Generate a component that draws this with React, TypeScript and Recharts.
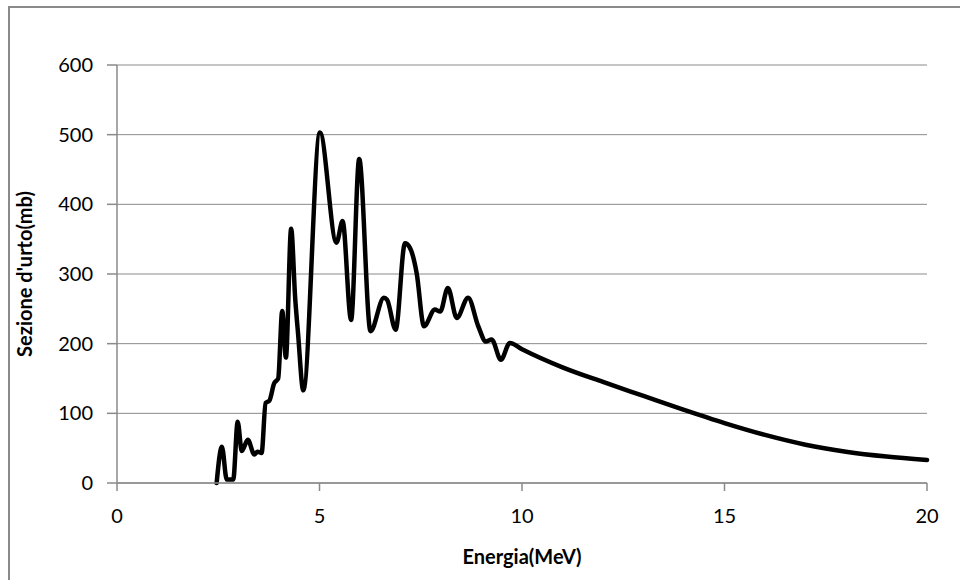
import React from "react";
import { LineChart, Line, XAxis, YAxis, CartesianGrid } from "recharts";

const energy: number[] = [
  2.46, 2.59, 2.71, 2.87, 2.98, 3.08, 3.23, 3.39, 3.47, 3.57, 3.67, 3.76, 3.88, 3.98,
  4.08, 4.17, 4.3, 4.4, 4.47, 4.6, 5.01, 5.42, 5.57, 5.78, 5.98, 6.26, 6.59, 6.67,
  6.88, 7.11, 7.23, 7.4, 7.58, 7.85, 7.98, 8.17, 8.39, 8.67, 8.92, 9.11, 9.25, 9.48,
  9.7, 10, 11, 12, 13, 14, 15, 16, 17, 18, 19, 20,
];
const crossSection: number[] = [
  0, 52, 5, 5, 88, 46, 62, 41, 45, 43, 115, 118, 143, 150,
  247, 180, 365, 265, 215, 133, 503, 345, 376, 234, 465, 218, 266, 263,
  220, 344, 338, 301, 225, 249, 246, 280, 237, 266, 225, 203, 206, 177,
  201, 192, 166, 145, 125, 105, 86, 69, 55, 45, 38, 33,
];
const xTicks: number[] = [0, 5, 10, 15, 20];
const yTicks: number[] = [0, 100, 200, 300, 400, 500, 600];
const xTitle = "Energia(MeV)";
const yTitle = "Sezione d'urto(mb)";

const data = energy.map((e, i) => ({ e, v: crossSection[i] }));

const FONT = "Lato, 'Open Sans', sans-serif";
const GRID = "#8a8a8a";

export default function App() {
  return (
    <div
      style={{
        position: "absolute",
        left: 0,
        top: 0,
        width: 960,
        height: 580,
        overflow: "hidden",
        background: "#fff",
        fontFamily: FONT,
      }}
    >
      <div
        style={{
          position: "absolute",
          left: 8,
          top: 6,
          width: 1000,
          height: 1000,
          borderLeft: `2px solid ${GRID}`,
          borderTop: `2px solid ${GRID}`,
          boxSizing: "border-box",
        }}
      />
      <div style={{ position: "absolute", left: 0, top: 0 }}>
        <LineChart
          width={960}
          height={580}
          data={data}
          margin={{ top: 65, right: 33, left: 0, bottom: 67 }}
        >
          <CartesianGrid vertical={false} stroke={GRID} strokeWidth={1} />
          <XAxis
            type="number"
            dataKey="e"
            domain={[0, 20]}
            ticks={xTicks}
            interval={0}
            height={30}
            tickSize={8}
            tickMargin={18}
            stroke={GRID}
            tick={{ fill: "#000", fontSize: 20, fontFamily: FONT }}
            axisLine={{ stroke: GRID, strokeWidth: 1.5 }}
            tickLine={{ stroke: GRID, strokeWidth: 1.5 }}
          />
          <YAxis
            type="number"
            domain={[0, 600]}
            ticks={yTicks}
            interval={0}
            width={117}
            tickSize={10}
            tickMargin={14}
            stroke={GRID}
            tick={{ fill: "#000", fontSize: 20, fontFamily: FONT }}
            axisLine={{ stroke: GRID, strokeWidth: 1.5 }}
            tickLine={{ stroke: GRID, strokeWidth: 1.5 }}
          />
          <Line
            type="monotone"
            dataKey="v"
            stroke="#000"
            strokeWidth={4.5}
            dot={false}
            isAnimationActive={false}
            strokeLinejoin="round"
            strokeLinecap="round"
          />
        </LineChart>
      </div>
      <div
        style={{
          position: "absolute",
          left: 522,
          top: 556,
          transform: "translate(-50%, -50%)",
          fontWeight: 700,
          fontSize: 20,
          whiteSpace: "nowrap",
          color: "#000",
        }}
      >
        {xTitle}
      </div>
      <div
        style={{
          position: "absolute",
          left: 24,
          top: 274,
          transform: "translate(-50%, -50%) rotate(-90deg)",
          fontWeight: 700,
          fontSize: 20,
          whiteSpace: "nowrap",
          color: "#000",
        }}
      >
        {yTitle}
      </div>
    </div>
  );
}
